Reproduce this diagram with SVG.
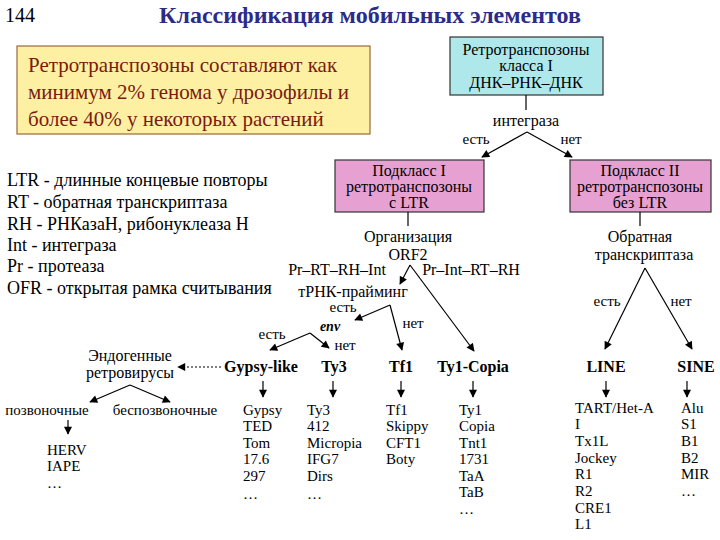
<svg xmlns="http://www.w3.org/2000/svg" width="720" height="540" viewBox="0 0 720 540" font-family="'Liberation Serif', 'DejaVu Serif', serif">
<defs>
<marker id="ah" viewBox="0 0 10 10" refX="9" refY="5" markerWidth="9" markerHeight="8" markerUnits="userSpaceOnUse" orient="auto">
<path d="M0,0 L10,5 L0,10 z" fill="#000"/>
</marker>
<style>
text{font-family:"Liberation Serif","DejaVu Serif",serif;fill:#000}
.t{font-size:16px;text-anchor:middle}
.s{font-size:15px;text-anchor:middle}
.bx{font-size:16px;text-anchor:middle}
.b{font-size:16px;font-weight:bold;text-anchor:middle}
.i{font-size:15px}
.lg{font-size:18px}
.ln{stroke:#000;stroke-width:1.2;fill:none}
.ar{stroke:#000;stroke-width:1.2;fill:none;marker-end:url(#ah)}
</style>
</defs>
<rect width="720" height="540" fill="#fff"/>
<g id="header">
<text x="5" y="22" style="font-size:20px">144</text>
<text x="370" y="23" style="font-size:24px;font-weight:bold;text-anchor:middle;fill:#2b2b8a">Классификация мобильных элементов</text>
</g>
<g id="note">
<rect x="17" y="46" width="353" height="88" fill="#fdf0a2" stroke="#9a6a3a" stroke-width="1.2"/>
<text x="28" y="72" style="font-size:21px;fill:#7a1a10">Ретротранспозоны составляют как</text>
<text x="28" y="99" style="font-size:21px;fill:#7a1a10">минимум 2% генома у дрозофилы и</text>
<text x="28" y="126" style="font-size:21px;fill:#7a1a10">более 40% у некоторых растений</text>
</g>
<g id="legend">
<text x="7" y="186" class="lg">LTR - длинные концевые повторы</text>
<text x="7" y="208" class="lg">RT - обратная транскриптаза</text>
<text x="7" y="230" class="lg">RH - РНКазаН, рибонуклеаза Н</text>
<text x="7" y="251" class="lg">Int - интеграза</text>
<text x="7" y="272" class="lg">Pr - протеаза</text>
<text x="7" y="294" class="lg">OFR - открытая рамка считывания</text>
</g>
<g id="class1">
<rect x="450" y="37" width="153" height="58" fill="#aee8ea" stroke="#333" stroke-width="1.2"/>
<text x="526" y="55" class="bx">Ретротранспозоны</text>
<text x="526" y="71" class="bx">класса I</text>
<text x="526" y="88" class="bx">ДНК–РНК–ДНК</text>
</g>
<g id="sub1">
<rect x="335" y="160" width="149" height="52" fill="#e6a0d2" stroke="#333" stroke-width="1.2"/>
<text x="409" y="176" class="bx">Подкласс I</text>
<text x="409" y="192" class="bx">ретротранспозоны</text>
<text x="409" y="208" class="bx">с LTR</text>
</g>
<g id="sub2">
<rect x="570" y="160" width="141" height="52" fill="#e6a0d2" stroke="#333" stroke-width="1.2"/>
<text x="640" y="176" class="bx">Подкласс II</text>
<text x="640" y="192" class="bx">ретротранспозоны</text>
<text x="640" y="208" class="bx">без LTR</text>
</g>
<g id="labels">
<text x="526" y="126" class="t">интеграза</text>
<text x="476" y="144" class="s">есть</text>
<text x="571" y="144" class="s">нет</text>
<text x="408" y="242" class="t">Организация</text>
<text x="408" y="260" class="t">ORF2</text>
<text x="337" y="275" class="t">Pr–RT–RH–Int</text>
<text x="471" y="275" class="t">Pr–Int–RT–RH</text>
<text x="353" y="297" class="t">тРНК-прайминг</text>
<text x="343" y="312" class="s">есть</text>
<text x="413" y="328" class="s">нет</text>
<text x="330" y="331" style="font-size:14px;font-weight:bold;font-style:italic;text-anchor:middle">env</text>
<text x="272" y="339" class="s">есть</text>
<text x="345" y="350" class="s">нет</text>
<text x="640" y="242" class="t">Обратная</text>
<text x="644" y="260" class="t">транскриптаза</text>
<text x="607" y="306" class="s">есть</text>
<text x="681" y="306" class="s">нет</text>
<text x="130" y="361" class="t">Эндогенные</text>
<text x="130" y="378" class="t">ретровирусы</text>
<text x="47" y="415" class="s">позвоночные</text>
<text x="165" y="415" class="s">беспозвоночные</text>
</g>
<g id="families">
<text x="261" y="372" class="b">Gypsy-like</text>
<text x="334" y="372" class="b">Ty3</text>
<text x="401" y="372" class="b">Tf1</text>
<text x="473" y="372" class="b">Ty1-Copia</text>
<text x="606" y="372" class="b">LINE</text>
<text x="696" y="372" class="b">SINE</text>
</g>
<g id="lists">
<text x="47" y="455" class="i">HERV</text>
<text x="47" y="471" class="i">IAPE</text>
<text x="47" y="488" class="i">…</text>
<text x="243" y="415" class="i">Gypsy</text>
<text x="243" y="431" class="i">TED</text>
<text x="243" y="448" class="i">Tom</text>
<text x="243" y="464" class="i">17.6</text>
<text x="243" y="481" class="i">297</text>
<text x="243" y="499" class="i">…</text>
<text x="307" y="415" class="i">Ty3</text>
<text x="307" y="431" class="i">412</text>
<text x="307" y="448" class="i">Micropia</text>
<text x="307" y="464" class="i">IFG7</text>
<text x="307" y="481" class="i">Dirs</text>
<text x="307" y="499" class="i">…</text>
<text x="386" y="415" class="i">Tf1</text>
<text x="386" y="431" class="i">Skippy</text>
<text x="386" y="448" class="i">CFT1</text>
<text x="386" y="464" class="i">Boty</text>
<text x="459" y="415" class="i">Ty1</text>
<text x="459" y="431" class="i">Copia</text>
<text x="459" y="448" class="i">Tnt1</text>
<text x="459" y="464" class="i">1731</text>
<text x="459" y="481" class="i">TaA</text>
<text x="459" y="497" class="i">TaB</text>
<text x="459" y="514" class="i">…</text>
<text x="575" y="413" class="i">TART/Het-A</text>
<text x="575" y="429" class="i">I</text>
<text x="575" y="446" class="i">Tx1L</text>
<text x="575" y="463" class="i">Jockey</text>
<text x="575" y="479" class="i">R1</text>
<text x="575" y="496" class="i">R2</text>
<text x="575" y="513" class="i">CRE1</text>
<text x="575" y="529" class="i">L1</text>
<text x="681" y="413" class="i">Alu</text>
<text x="681" y="429" class="i">S1</text>
<text x="681" y="446" class="i">B1</text>
<text x="681" y="463" class="i">B2</text>
<text x="681" y="479" class="i">MIR</text>
<text x="681" y="496" class="i">…</text>
</g>
<g id="connectors">
<line class="ln" x1="526" y1="95" x2="526" y2="110"/>
<line class="ar" x1="527" y1="132" x2="482" y2="157"/>
<line class="ar" x1="527" y1="132" x2="572" y2="157"/>
<line class="ln" x1="408" y1="212" x2="408" y2="226"/>
<line class="ar" x1="410" y1="265" x2="400" y2="284"/>
<line class="ar" x1="410" y1="265" x2="474" y2="351"/>
<line class="ar" x1="390" y1="305" x2="355" y2="320"/>
<line class="ar" x1="390" y1="305" x2="402" y2="350"/>
<line class="ar" x1="310" y1="333" x2="270" y2="350"/>
<line class="ar" x1="310" y1="333" x2="329" y2="348"/>
<line class="ln" x1="640" y1="212" x2="640" y2="226"/>
<line class="ar" x1="645" y1="268" x2="605" y2="349"/>
<line class="ar" x1="645" y1="268" x2="692" y2="349"/>
<line class="ar" x1="221" y1="367" x2="178" y2="367" stroke-dasharray="2,2" stroke-width="2"/>
<line class="ar" x1="130" y1="385" x2="90" y2="402"/>
<line class="ar" x1="130" y1="385" x2="170" y2="402"/>
<line class="ar" x1="68" y1="420" x2="68" y2="434"/>
<line class="ar" x1="263" y1="381" x2="263" y2="397"/>
<line class="ar" x1="333" y1="381" x2="333" y2="397"/>
<line class="ar" x1="401" y1="381" x2="401" y2="397"/>
<line class="ar" x1="473" y1="381" x2="473" y2="397"/>
<line class="ar" x1="606" y1="381" x2="606" y2="397"/>
<line class="ar" x1="687" y1="381" x2="687" y2="397"/>
</g>
</svg>
